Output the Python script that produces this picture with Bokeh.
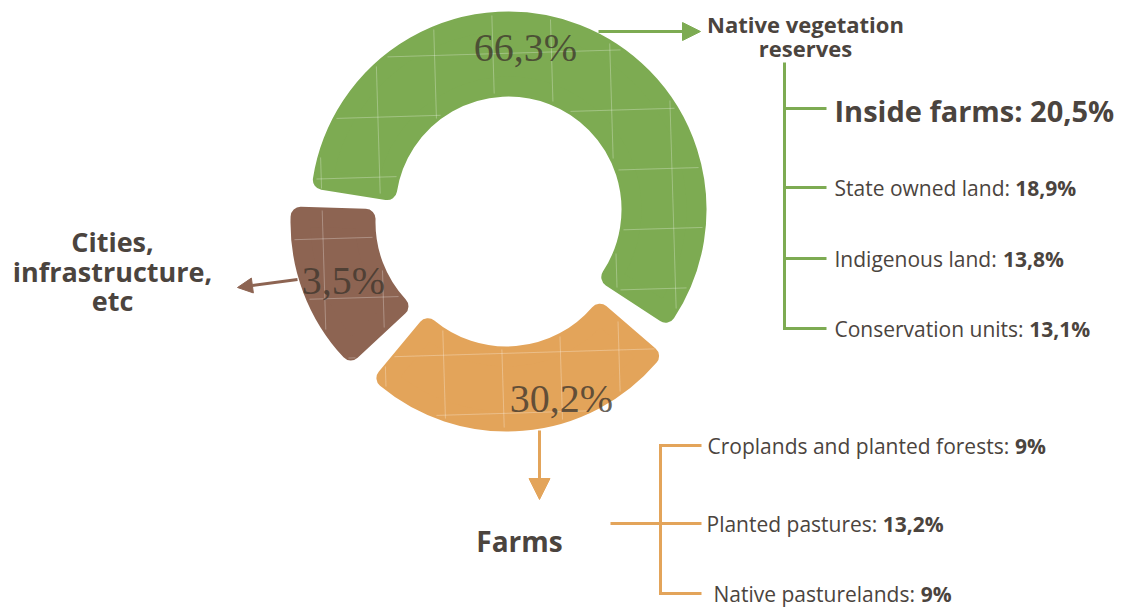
import numpy as np
from bokeh.plotting import figure
from bokeh.models import Range1d, Arrow, NormalHead
from bokeh.core.properties import value
from bokeh.embed import file_html
from bokeh.resources import INLINE

# ---------------- data ----------------
categories = ["Native vegetation\nreserves", "Cities,\ninfrastructure,\netc", "Farms"]
shares = [66.3, 3.5, 30.2]

native_items = ["Inside farms", "State owned land", "Indigenous land", "Conservation units"]
native_values = [20.5, 18.9, 13.8, 13.1]

farm_items = ["Croplands and planted forests", "Planted pastures", "Native pasturelands"]
farm_values = [9, 13.2, 9]

# ---------------- style / layout ----------------
W, H = 1124, 607
GREEN, BROWN, ORANGE = "#7dab52", "#8d6452", "#e3a45a"
TEXT = "#4b443e"
colors = [GREEN, BROWN, ORANGE]
SANS = value("Open Sans")


def Y(y):
    return H - y


def fmt(v):
    s = f"{v:.1f}".replace(".", ",") if isinstance(v, float) else str(v)
    return s + "%"


# approximate Open Sans Regular advance widths (em)
OS_REG = {" ": .260, "a": .556, "c": .476, "d": .613, "e": .561, "f": .339, "g": .548,
          "i": .253, "l": .253, "n": .614, "o": .604, "p": .613, "r": .408, "s": .477,
          "t": .353, "u": .614, "v": .501, "w": .778, ":": .266, "C": .634, "I": .300,
          "N": .760, "P": .595, "S": .535}


def tw(s, size):
    return sum(OS_REG.get(c, .56) for c in s) * size


p = figure(width=W, height=H, x_range=Range1d(0, W), y_range=Range1d(0, H),
           output_backend="svg", toolbar_location=None,
           x_axis_location=None, y_axis_location=None, min_border=0,
           outline_line_color=None, background_fill_color="white",
           border_fill_color="white")
p.grid.visible = False

# ---------------- donut ----------------
CX, CY = 504, Y(221)
R_OUT, R_IN, RC = 198, 113, 10
START = np.deg2rad(-37)
MIN_SHARE = 16.3          # small slices enlarged for readability
offsets = [(4, 12), (-16, -1), (2, -12)]

w = np.maximum(np.array(shares), MIN_SHARE)
sweep = 2 * np.pi * w / w.sum()
ends = START + np.cumsum(sweep)
starts = ends - sweep
d = RC / ((R_OUT + R_IN) / 2)
xs = [CX + o[0] for o in offsets]
ys = [CY + o[1] for o in offsets]

p.annular_wedge(x=xs, y=ys, inner_radius=R_IN + RC, outer_radius=R_OUT - RC,
                start_angle=list(starts + d), end_angle=list(ends - d),
                fill_color=colors, line_color=colors, line_width=2 * RC,
                line_join="round")

# faint map-like grid texture over the slices
GX = np.arange(322, 720, 58.5)
GY = np.arange(53, 440, 60)
gxs, gys = [], []


def inside(px, py, i):
    dx, dy = px - xs[i], py - ys[i]
    r = np.hypot(dx, dy)
    a = np.mod(np.arctan2(dy, dx) - starts[i], 2 * np.pi)
    m = 3.0 / np.maximum(r, 1)
    return (r > R_IN + 3) & (r < R_OUT - 3) & (a > m) & (a < sweep[i] - m)


def add_runs(px, py, mask):
    idx = np.flatnonzero(mask)
    if idx.size == 0:
        return
    breaks = np.flatnonzero(np.diff(idx) > 1)
    for seg in np.split(idx, breaks + 1):
        if seg.size > 2:
            gxs.append(list(px[seg]))
            gys.append(list(py[seg]))


for i in range(3):
    for gx in GX:
        py = Y(np.arange(0, 460, 1.0))
        px = np.full_like(py, gx) + (Y(py) - 220) * 0.03
        add_runs(px, py, inside(px, py, i))
    for gy in GY:
        px = np.arange(250, 730, 1.0)
        py = np.full_like(px, Y(gy)) + (px - 500) * 0.03
        add_runs(px, py, inside(px, py, i))

p.multi_line(xs=gxs, ys=gys, line_color="white", line_alpha=0.3, line_width=1)

# percentage labels
pct_pos = [(525, 47), (343, 280), (561, 398)]
p.text(x=[q[0] for q in pct_pos], y=[Y(q[1]) for q in pct_pos],
       text=[fmt(s) for s in shares],
       text_font=value("Liberation Serif"), text_font_size="40px",
       text_align="center", text_baseline="middle",
       text_color="#3f372e", text_alpha=0.8)

# ---------------- arrows ----------------
arrows = [((598, 31), (700, 31), GREEN, 18),
          ((297, 279), (237, 287), BROWN, 15),
          ((539, 430), (539, 499), ORANGE, 21)]
for (x0, y0), (x1, y1), c, sz in arrows:
    p.add_layout(Arrow(end=NormalHead(size=sz, fill_color=c, line_color=c, line_width=1),
                       x_start=x0, y_start=Y(y0), x_end=x1, y_end=Y(y1),
                       line_color=c, line_width=3))

# ---------------- category headings ----------------
head_pos = [(805, 23, 22, 24), (112, 241, 27, 29.5), (519, 540, 28, 0)]
for cat, (hx, hy, fs, lh) in zip(categories, head_pos):
    lines = cat.split("\n")
    p.text(x=[hx] * len(lines), y=[Y(hy + i * lh) for i in range(len(lines))],
           text=lines, text_font=SANS, text_font_style="bold",
           text_font_size=f"{fs}px", text_align="center",
           text_baseline="middle", text_color=TEXT)

# ---------------- native vegetation breakdown ----------------
g_x, g_tick, g_top = 784, 826, 62
g_y = [108, 187, 258, 328]
p.segment(x0=[g_x], y0=[Y(g_top)], x1=[g_x], y1=[Y(g_y[-1])],
          line_color=GREEN, line_width=3)
p.segment(x0=[g_x - 1.5] * len(g_y), y0=[Y(v) for v in g_y],
          x1=[g_tick] * len(g_y), y1=[Y(v) for v in g_y],
          line_color=GREEN, line_width=3)

TX = 834
# emphasised first item
p.text(x=[TX], y=[Y(g_y[0] + 2)], text=[f"{native_items[0]}: {fmt(native_values[0])}"],
       text_font=SANS, text_font_style="bold", text_font_size="29px",
       text_align="left", text_baseline="middle", text_color=TEXT)
FS = 21
norm = [f"{it}: " for it in native_items[1:]]
p.text(x=[TX] * len(norm), y=[Y(v) for v in g_y[1:]], text=norm,
       text_font=SANS, text_font_size=f"{FS}px", text_align="left",
       text_baseline="middle", text_color=TEXT)
p.text(x=[TX + tw(s, FS) for s in norm], y=[Y(v) for v in g_y[1:]],
       text=[fmt(v) for v in native_values[1:]],
       text_font=SANS, text_font_style="bold", text_font_size=f"{FS}px",
       text_align="left", text_baseline="middle", text_color=TEXT)

# ---------------- farms breakdown ----------------
o_x, o_tick = 660, 701
o_y = [445, 523, 593]
o_tx = [707, 706, 713]
p.segment(x0=[o_x], y0=[Y(o_y[0])], x1=[o_x], y1=[Y(o_y[-1])],
          line_color=ORANGE, line_width=3)
p.segment(x0=[o_x - 1.5, 610, o_x - 1.5], y0=[Y(v) for v in o_y],
          x1=[o_tick] * 3, y1=[Y(v) for v in o_y],
          line_color=ORANGE, line_width=3)
norm = [f"{it}: " for it in farm_items]
p.text(x=o_tx, y=[Y(v) for v in o_y], text=norm,
       text_font=SANS, text_font_size=f"{FS}px", text_align="left",
       text_baseline="middle", text_color=TEXT)
p.text(x=[x + tw(s, FS) for x, s in zip(o_tx, norm)], y=[Y(v) for v in o_y],
       text=[fmt(v) for v in farm_values],
       text_font=SANS, text_font_style="bold", text_font_size=f"{FS}px",
       text_align="left", text_baseline="middle", text_color=TEXT)

open("out.html", "w").write(file_html(p, INLINE, "Land use"))
